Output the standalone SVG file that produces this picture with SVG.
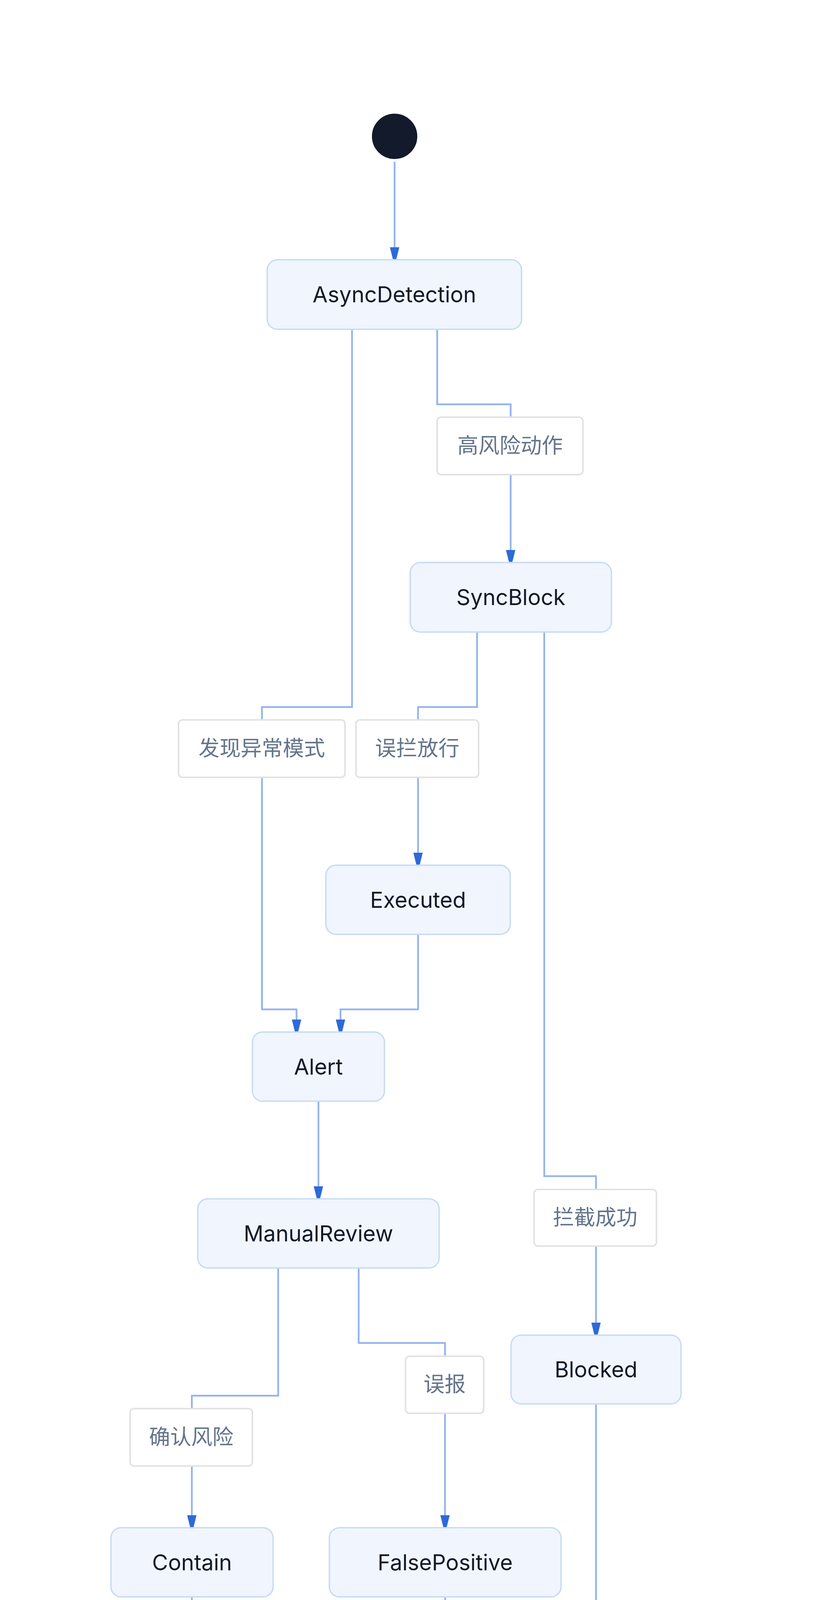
<svg xmlns="http://www.w3.org/2000/svg" width="2086" height="4730" viewBox="0 0 2086 4730">
<style>
.edge{fill:none;stroke:#93b4f0;stroke-width:4.5;}
.node rect{fill:#f0f5fe;stroke:#c9daf5;stroke-width:3.5;}
.node text{font-family:Inter,"Liberation Sans",sans-serif;font-size:56px;fill:#111827;text-anchor:middle;}
.lbl rect{fill:#ffffff;stroke:#e2e2e4;stroke-width:4;}
.lbl text{font-family:"Noto Sans CJK SC","Noto Sans",sans-serif;font-size:54px;fill:#64748b;text-anchor:middle;}
</style>
<defs>
<marker id="arr" markerUnits="userSpaceOnUse" markerWidth="32" markerHeight="24" viewBox="0 0 32 24" refX="32" refY="12" orient="auto">
<polygon points="0,0 32,8 32,16 0,24" fill="#2d6ad8"/>
</marker>
</defs>
<rect width="2086" height="4730" fill="#ffffff"/>
<g id="connectors">
<path class="edge" d="M1010,414 V665" marker-end="url(#arr)"/>
<path class="edge" d="M1119,843 V1035 H1307 V1440" marker-end="url(#arr)"/>
<path class="edge" d="M901,843 V1810 H670.5 V2584 H759 V2642" marker-end="url(#arr)"/>
<path class="edge" d="M1221,1618 V1810 H1070 V2215" marker-end="url(#arr)"/>
<path class="edge" d="M1070,2392 V2584 H871.5 V2642" marker-end="url(#arr)"/>
<path class="edge" d="M815,2819 V3069" marker-end="url(#arr)"/>
<path class="edge" d="M1393,1618 V3011 H1525.5 V3418" marker-end="url(#arr)"/>
<path class="edge" d="M712,3246 V3573 H491 V3911" marker-end="url(#arr)"/>
<path class="edge" d="M918,3246 V3438 H1139 V3911" marker-end="url(#arr)"/>
<path class="edge" d="M491,4088 V4179 H1139.5 V4270" marker-end="url(#arr)"/>
<path class="edge" d="M1139.5,4088 V4270" marker-end="url(#arr)"/>
<path class="edge" d="M1525.5,3594 V4179 H1139.5 V4270" marker-end="url(#arr)"/>
</g>
<g id="edge-labels">
<g class="lbl" id="lbl-high-risk"><rect x="1119" y="1068" width="373" height="147" rx="10"/><text x="1305.5" y="1160">高风险动作</text></g>
<g class="lbl" id="lbl-anomaly"><rect x="457" y="1843" width="426" height="147" rx="10"/><text x="670" y="1935">发现异常模式</text></g>
<g class="lbl" id="lbl-false-release"><rect x="911" y="1843" width="314" height="147" rx="10"/><text x="1068" y="1935">误拦放行</text></g>
<g class="lbl" id="lbl-blocked"><rect x="1367" y="3045" width="313" height="145" rx="10"/><text x="1523.5" y="3136">拦截成功</text></g>
<g class="lbl" id="lbl-confirm"><rect x="333" y="3606" width="313" height="147" rx="10"/><text x="489.5" y="3698">确认风险</text></g>
<g class="lbl" id="lbl-fp"><rect x="1038" y="3472" width="200" height="146" rx="10"/><text x="1138" y="3563">误报</text></g>
</g>
<g id="start"><circle cx="1010" cy="349" r="57" fill="#131a2b" stroke="#0f172a" stroke-width="2"/></g>
<g class="node" id="AsyncDetection"><rect x="684" y="665" width="651" height="178" rx="26"/><text x="1009.5" y="774">AsyncDetection</text></g>
<g class="node" id="SyncBlock"><rect x="1050" y="1440" width="515" height="178" rx="26"/><text x="1307.5" y="1549">SyncBlock</text></g>
<g class="node" id="Executed"><rect x="834" y="2215" width="472" height="177" rx="26"/><text x="1070" y="2323.5">Executed</text></g>
<g class="node" id="Alert"><rect x="646" y="2642" width="338" height="177" rx="26"/><text x="815" y="2750.5">Alert</text></g>
<g class="node" id="ManualReview"><rect x="506" y="3069" width="618" height="177" rx="26"/><text x="815" y="3177.5">ManualReview</text></g>
<g class="node" id="Blocked"><rect x="1308" y="3418" width="435" height="176" rx="26"/><text x="1525.5" y="3526">Blocked</text></g>
<g class="node" id="Contain"><rect x="284" y="3911" width="415" height="177" rx="26"/><text x="491.5" y="4019.5">Contain</text></g>
<g class="node" id="FalsePositive"><rect x="843" y="3911" width="593" height="177" rx="26"/><text x="1139.5" y="4019.5">FalsePositive</text></g>
<g class="node" id="Monitor"><rect x="931" y="4270" width="418" height="178" rx="26"/><text x="1140" y="4379">Monitor</text></g>
</svg>
